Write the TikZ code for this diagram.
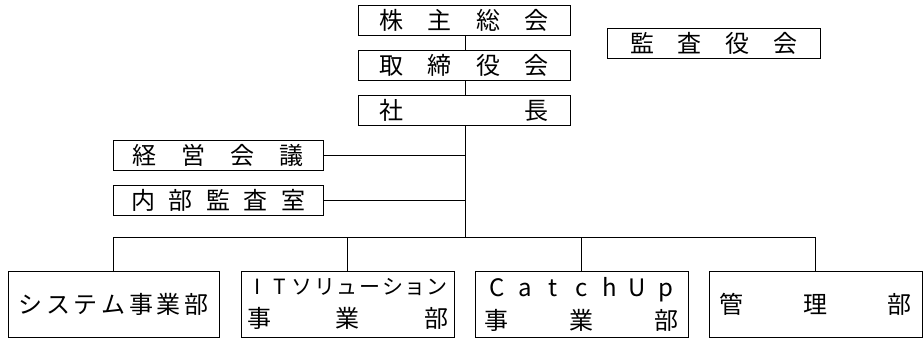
\documentclass[tikz,border=0pt]{standalone}
\usepackage{fontspec}
\newfontfamily\jp{Noto Sans CJK JP}
\newcommand\cellc[1]{\makebox[1em]{#1}}
\begin{document}
\begin{tikzpicture}[x=1pt,y=-1pt,
  box/.style={draw=black,line width=0.8pt,inner sep=0pt,rectangle,
    font=\jp\fontsize{24}{33}\selectfont,align=center},
  small/.style={box,minimum width=212pt,minimum height=30pt},
  big/.style={box,minimum width=213pt,minimum height=66pt},
  link/.style={draw=black,line width=0.8pt}]
\useasboundingbox (0,0) rectangle (923,338);
\node[small] (A) at (464,20) {\makebox[169pt][s]{株\hfill 主\hfill 総\hfill 会}};
\node[small] (B) at (464,65) {\makebox[169pt][s]{取\hfill 締\hfill 役\hfill 会}};
\node[small] (C) at (464,110) {\makebox[169pt][s]{社\hfill 長}};
\node[small,minimum width=213pt] (D) at (713.5,43) {\makebox[167pt][s]{監\hfill 査\hfill 役\hfill 会}};
\node[small,minimum width=210pt] (E) at (218,155) {\makebox[171pt][s]{経\hfill 営\hfill 会\hfill 議}};
\node[small,minimum width=210pt] (F) at (218,200) {\makebox[174pt][s]{内\hfill 部\hfill 監\hfill 査\hfill 室}};
\node[big,minimum width=211pt] (G1) at (113.5,304) {\makebox[190pt][s]{シ\hfill ス\hfill テ\hfill ム\hfill 事\hfill 業\hfill 部}};
\node[big] (G2) at (347.5,304) {{\fontsize{21}{33}\selectfont\makebox[201pt][s]{\cellc{I}\hfill\cellc{T}\hfill ソ\hfill リ\hfill ュ\hfill ー\hfill シ\hfill ョ\hfill ン}}\\\makebox[201pt][s]{事\hfill 業\hfill 部}};
\node[big] (G3) at (581.5,304) {\makebox[192pt][s]{\cellc{C}\hfill\cellc{a}\hfill\cellc{t}\hfill\cellc{c}\hfill\cellc{h}\hfill\cellc{U}\hfill\cellc{p}}\\\makebox[194pt][s]{事\hfill 業\hfill 部}};
\node[big] (G4) at (815.5,304) {\makebox[192pt][s]{管\hfill 理\hfill 部}};
\coordinate (hub) at (465,237);
\path[link] (A.south -| hub) -- (B.north -| hub);
\path[link] (B.south -| hub) -- (C.north -| hub);
\path[link] (C.south -| hub) -- (hub);
\path[link] (E.east) -- (E.east -| hub);
\path[link] (F.east) -- (F.east -| hub);
\path[link] (G1.north) -- (G1.north |- hub) -- (G4.north |- hub) -- (G4.north);
\path[link] (G2.north) -- (G2.north |- hub);
\path[link] (G3.north) -- (G3.north |- hub);
\end{tikzpicture}
\end{document}
